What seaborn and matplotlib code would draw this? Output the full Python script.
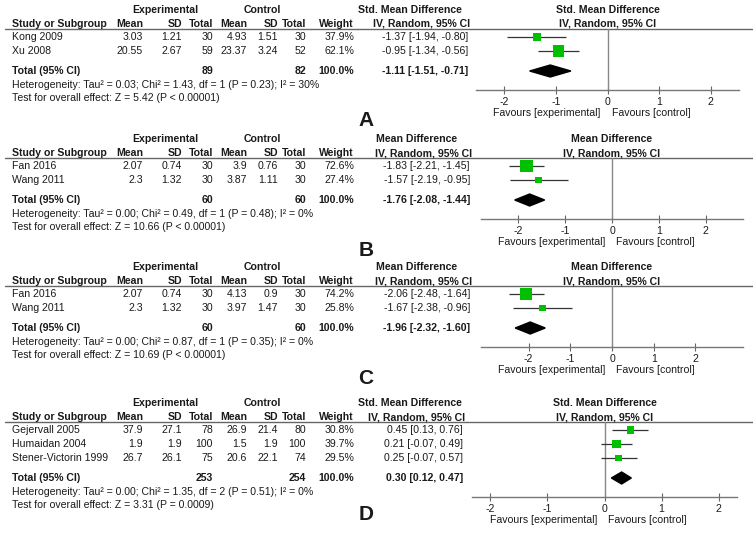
import matplotlib
matplotlib.use("Agg")
import matplotlib.pyplot as plt
import seaborn as sns
import pandas as pd

sns.set_theme(style="white")
plt.rcParams["font.family"] = ["Liberation Sans", "DejaVu Sans"]

# dados (4 meta-análises A-D)
A_measure = "Std. Mean Difference"
A_studies = ["Kong 2009", "Xu 2008"]
A_exp_mean = ["3.03", "20.55"]
A_exp_sd = ["1.21", "2.67"]
A_exp_n = [30, 59]
A_ctl_mean = ["4.93", "23.37"]
A_ctl_sd = ["1.51", "3.24"]
A_ctl_n = [30, 52]
A_weight = [37.9, 62.1]
A_est = [-1.37, -0.95]
A_lo = [-1.94, -1.34]
A_hi = [-0.80, -0.56]
A_total = [89, 82, -1.11, -1.51, -0.71]
A_het = "Heterogeneity: Tau² = 0.03; Chi² = 1.43, df = 1 (P = 0.23); I² = 30%"
A_test = "Test for overall effect: Z = 5.42 (P < 0.00001)"

B_measure = "Mean Difference"
B_studies = ["Fan 2016", "Wang 2011"]
B_exp_mean = ["2.07", "2.3"]
B_exp_sd = ["0.74", "1.32"]
B_exp_n = [30, 30]
B_ctl_mean = ["3.9", "3.87"]
B_ctl_sd = ["0.76", "1.11"]
B_ctl_n = [30, 30]
B_weight = [72.6, 27.4]
B_est = [-1.83, -1.57]
B_lo = [-2.21, -2.19]
B_hi = [-1.45, -0.95]
B_total = [60, 60, -1.76, -2.08, -1.44]
B_het = "Heterogeneity: Tau² = 0.00; Chi² = 0.49, df = 1 (P = 0.48); I² = 0%"
B_test = "Test for overall effect: Z = 10.66 (P < 0.00001)"

C_measure = "Mean Difference"
C_studies = ["Fan 2016", "Wang 2011"]
C_exp_mean = ["2.07", "2.3"]
C_exp_sd = ["0.74", "1.32"]
C_exp_n = [30, 30]
C_ctl_mean = ["4.13", "3.97"]
C_ctl_sd = ["0.9", "1.47"]
C_ctl_n = [30, 30]
C_weight = [74.2, 25.8]
C_est = [-2.06, -1.67]
C_lo = [-2.48, -2.38]
C_hi = [-1.64, -0.96]
C_total = [60, 60, -1.96, -2.32, -1.60]
C_het = "Heterogeneity: Tau² = 0.00; Chi² = 0.87, df = 1 (P = 0.35); I² = 0%"
C_test = "Test for overall effect: Z = 10.69 (P < 0.00001)"

D_measure = "Std. Mean Difference"
D_studies = ["Gejervall 2005", "Humaidan 2004", "Stener-Victorin 1999"]
D_exp_mean = ["37.9", "1.9", "26.7"]
D_exp_sd = ["27.1", "1.9", "26.1"]
D_exp_n = [78, 100, 75]
D_ctl_mean = ["26.9", "1.5", "20.6"]
D_ctl_sd = ["21.4", "1.9", "22.1"]
D_ctl_n = [80, 100, 74]
D_weight = [30.8, 39.7, 29.5]
D_est = [0.45, 0.21, 0.25]
D_lo = [0.13, -0.07, -0.07]
D_hi = [0.76, 0.49, 0.57]
D_total = [253, 254, 0.30, 0.12, 0.47]
D_het = "Heterogeneity: Tau² = 0.00; Chi² = 1.35, df = 2 (P = 0.51); I² = 0%"
D_test = "Test for overall effect: Z = 3.31 (P = 0.0009)"

tick_vals = [-2, -1, 0, 1, 2]
tick_labels = ["-2", "-1", "0", "1", "2"]

# layout em pixels
W, H = 753, 534
layout = {
    "A": dict(top=0, xr=(476, 739), lim=2.55, ci_r=468, h1c=410, letter_y=121),
    "B": dict(top=129, xr=(481, 743), lim=2.8, ci_r=470, h1c=417, letter_y=250),
    "C": dict(top=257, xr=(481, 743), lim=3.14, ci_r=470, h1c=417, letter_y=379),
    "D": dict(top=393, xr=(472, 737), lim=2.32, ci_r=463, h1c=410, letter_y=515),
}
dados = {
    "A": (A_measure, A_studies, A_exp_mean, A_exp_sd, A_exp_n, A_ctl_mean, A_ctl_sd, A_ctl_n,
          A_weight, A_est, A_lo, A_hi, A_total, A_het, A_test),
    "B": (B_measure, B_studies, B_exp_mean, B_exp_sd, B_exp_n, B_ctl_mean, B_ctl_sd, B_ctl_n,
          B_weight, B_est, B_lo, B_hi, B_total, B_het, B_test),
    "C": (C_measure, C_studies, C_exp_mean, C_exp_sd, C_exp_n, C_ctl_mean, C_ctl_sd, C_ctl_n,
          C_weight, C_est, C_lo, C_hi, C_total, C_het, C_test),
    "D": (D_measure, D_studies, D_exp_mean, D_exp_sd, D_exp_n, D_ctl_mean, D_ctl_sd, D_ctl_n,
          D_weight, D_est, D_lo, D_hi, D_total, D_het, D_test),
}

cols = [143, 182, 213, 247, 278, 306, 354]  # bordas direitas das colunas
TXT = "#1a1a1a"
FS = 7.6
GREEN = "#00c000"

fig = plt.figure(figsize=(W / 100, H / 100), dpi=100)
bg = fig.add_axes([0, 0, 1, 1])
bg.set_xlim(0, W)
bg.set_ylim(H, 0)
bg.axis("off")


def t(x, y, s, ha="left", bold=False, size=FS):
    bg.text(x, y, s, ha=ha, va="center", fontsize=size, color=TXT,
            fontweight="bold" if bold else "normal")


for key, lay in layout.items():
    (measure, studies, em, esd, en, cm, csd, cn, wt, est, lo, hi, tot, het, test) = dados[key]
    o = lay["top"]
    x_l, x_r = lay["xr"]
    xc = (x_l + x_r) / 2
    ci_r = lay["ci_r"]
    n = len(studies)
    rows_y = [o + 37 + 14 * i for i in range(n)]
    y_tot = rows_y[-1] + 20
    y_axis = y_tot + 19
    y_line = o + 29

    # cabeçalhos
    t(165, o + 10, "Experimental", ha="center", bold=True)
    t(262, o + 10, "Control", ha="center", bold=True)
    t(lay["h1c"], o + 10, measure, ha="center", bold=True)
    t(xc, o + 10, measure, ha="center", bold=True)
    t(12, o + 24, "Study or Subgroup", bold=True)
    for x, h in zip(cols, ["Mean", "SD", "Total", "Mean", "SD", "Total", "Weight"]):
        t(x, o + 24, h, ha="right", bold=True)
    t(ci_r + 2, o + 24, "IV, Random, 95% CI", ha="right", bold=True)
    t(xc, o + 24, "IV, Random, 95% CI", ha="center", bold=True)
    bg.plot([5, W], [y_line, y_line], color="#666666", lw=1)

    # linhas dos estudos
    for i, y in enumerate(rows_y):
        t(12, y, studies[i])
        vals = [em[i], esd[i], str(en[i]), cm[i], csd[i], str(cn[i]), f"{wt[i]:.1f}%"]
        for x, v in zip(cols, vals):
            t(x, y, v, ha="right")
        t(ci_r, y, f"{est[i]:.2f} [{lo[i]:.2f}, {hi[i]:.2f}]", ha="right")

    # total
    t(12, y_tot, "Total (95% CI)", bold=True)
    t(cols[2], y_tot, str(tot[0]), ha="right", bold=True)
    t(cols[5], y_tot, str(tot[1]), ha="right", bold=True)
    t(cols[6], y_tot, "100.0%", ha="right", bold=True)
    t(ci_r, y_tot, f"{tot[2]:.2f} [{tot[3]:.2f}, {tot[4]:.2f}]", ha="right", bold=True)
    t(12, y_tot + 14, het)
    t(12, y_tot + 27, test)
    t(366, lay["letter_y"], key, ha="center", bold=True, size=15)

    # forest plot
    ax = fig.add_axes([x_l / W, 1 - y_axis / H, (x_r - x_l) / W, (y_axis - y_line) / H])
    ax.set_facecolor("none")
    df = pd.DataFrame({"est": est, "lo": lo, "hi": hi, "y": rows_y, "w": wt})
    ax.hlines(df["y"], df["lo"], df["hi"], color="#333333", lw=0.9, zorder=2)
    side_pt = (3 + 0.13 * df["w"]) * 0.72
    sns.scatterplot(data=df, x="est", y="y", marker="s", s=side_pt ** 2, color=GREEN,
                    edgecolor=GREEN, linewidth=0, ax=ax, legend=False, zorder=3)
    ax.fill([tot[3], tot[2], tot[4], tot[2]], [y_tot, y_tot - 6, y_tot, y_tot + 6],
            color="black", zorder=3)
    ax.axvline(0, color="#888888", lw=1, zorder=1)
    ax.set_xlim(-lay["lim"], lay["lim"])
    ax.set_ylim(y_axis, y_line)
    ax.set_xticks(tick_vals)
    ax.set_xticklabels(tick_labels)
    ax.set_yticks([])
    ax.set_xlabel("")
    ax.set_ylabel("")
    for s in ["top", "left", "right"]:
        ax.spines[s].set_visible(False)
    ax.spines["bottom"].set_color("#777777")
    ax.spines["bottom"].set_linewidth(1)
    ax.tick_params(axis="x", direction="inout", length=6, width=0.8, color="#666666",
                   labelsize=FS, labelcolor=TXT, pad=2, bottom=True)
    ax.annotate("Favours [experimental]", xy=(0, 0), xycoords=("data", "axes fraction"),
                xytext=(-7 * 0.72, -23 * 0.72), textcoords="offset points",
                ha="right", va="center", fontsize=FS, color=TXT)
    ax.annotate("Favours [control]", xy=(0, 0), xycoords=("data", "axes fraction"),
                xytext=(4 * 0.72, -23 * 0.72), textcoords="offset points",
                ha="left", va="center", fontsize=FS, color=TXT)

fig.savefig("out.png", dpi=100, facecolor="white")
